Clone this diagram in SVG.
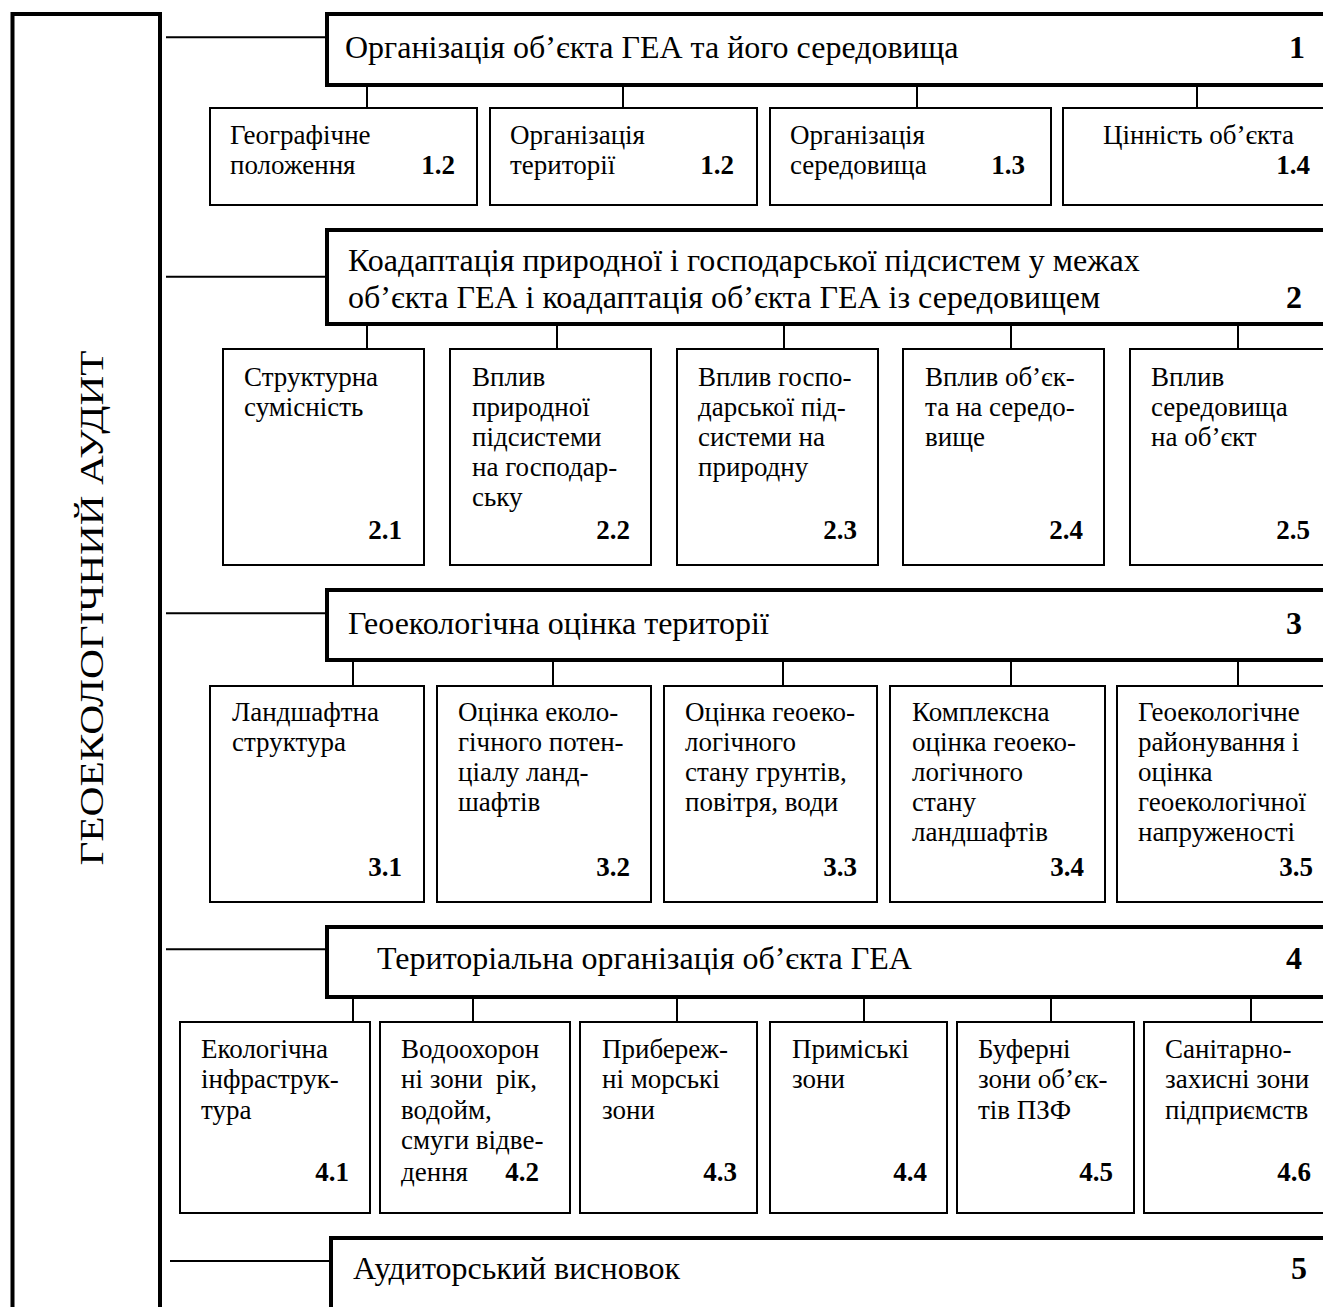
<svg xmlns="http://www.w3.org/2000/svg" width="1323" height="1307" viewBox="0 0 1323 1307">
<style>
text{font-family:"Liberation Serif","Times New Roman",serif;fill:#000}
.h{font-size:32px}
.s{font-size:27px}
.n{font-size:27px;font-weight:bold;text-anchor:end}
.hn{font-size:32px;font-weight:bold;text-anchor:end}
.v{font-size:33px;text-anchor:middle}
.hdr{fill:#fff;stroke:#000;stroke-width:4}
.box{fill:#fff;stroke:#000;stroke-width:2}
.ln{stroke:#000;stroke-width:2;fill:none}
</style>
<rect width="1323" height="1307" fill="#fff"/>
<g id="audit">
<rect x="12.5" y="14" width="147.5" height="1320" fill="#fff" stroke="#000" stroke-width="4"/>
<text class="v" transform="translate(103,608) rotate(-90)" textLength="515" lengthAdjust="spacingAndGlyphs">ГЕОЕКОЛОГІЧНИЙ АУДИТ</text>
</g>
<g id="connectors">
<path class="ln" d="M166 37.3H327M166 276.7H327M166 613.3H327M166 949.3H327M170 1261H331"/>
<path class="ln" d="M367 85V108M623 85V108M917 85V108M1197 85V108"/>
<path class="ln" d="M367 324V349M557 324V349M784 324V349M1011 324V349M1238 324V349"/>
<path class="ln" d="M353 660V686M553 660V686M783 660V686M1011 660V686M1238 660V686"/>
<path class="ln" d="M353 997V1022M473 997V1022M677 997V1022M864 997V1022M1051 997V1022M1251 997V1022"/>
</g>
<g id="h1"><rect class="hdr" x="327" y="14" width="1010" height="71"/>
<text class="h" x="345" y="58">Організація об’єкта ГЕА та його середовища</text><text class="hn" x="1305" y="58">1</text></g>
<g id="n1-1"><rect class="box" x="210" y="108" width="267" height="97"/><text class="s" x="230" y="144">Географічне</text><text class="s" x="230" y="174">положення</text><text class="n" x="455" y="174">1.2</text></g>
<g id="n1-2"><rect class="box" x="490" y="108" width="267" height="97"/><text class="s" x="510" y="144">Організація</text><text class="s" x="510" y="174">території</text><text class="n" x="734" y="174">1.2</text></g>
<g id="n1-3"><rect class="box" x="770" y="108" width="281" height="97"/><text class="s" x="790" y="144">Організація</text><text class="s" x="790" y="174">середовища</text><text class="n" x="1025" y="174">1.3</text></g>
<g id="n1-4"><rect class="box" x="1063" y="108" width="280" height="97"/><text class="s" x="1103" y="144">Цінність об’єкта</text><text class="n" x="1310" y="174">1.4</text></g>

<g id="h2"><rect class="hdr" x="327" y="230" width="1010" height="94"/>
<text class="h" x="348" y="271">Коадаптація природної і господарської підсистем у межах</text>
<text class="h" x="348" y="308">об’єкта ГЕА і коадаптація об’єкта ГЕА із середовищем</text><text class="hn" x="1302" y="308">2</text></g>
<g id="n2-1"><rect class="box" x="223" y="349" width="201" height="216"/><text class="s" x="244" y="386">Структурна</text><text class="s" x="244" y="416">сумісність</text><text class="n" x="402" y="539">2.1</text></g>
<g id="n2-2"><rect class="box" x="450" y="349" width="201" height="216"/><text class="s" x="472" y="386">Вплив</text><text class="s" x="472" y="416">природної</text><text class="s" x="472" y="446">підсистеми</text><text class="s" x="472" y="476">на господар-</text><text class="s" x="472" y="506">ську</text><text class="n" x="630" y="539">2.2</text></g>
<g id="n2-3"><rect class="box" x="677" y="349" width="201" height="216"/><text class="s" x="698" y="386">Вплив госпо-</text><text class="s" x="698" y="416">дарської під-</text><text class="s" x="698" y="446">системи на</text><text class="s" x="698" y="476">природну</text><text class="n" x="857" y="539">2.3</text></g>
<g id="n2-4"><rect class="box" x="903" y="349" width="201" height="216"/><text class="s" x="925" y="386">Вплив об’єк-</text><text class="s" x="925" y="416">та на середо-</text><text class="s" x="925" y="446">вище</text><text class="n" x="1083" y="539">2.4</text></g>
<g id="n2-5"><rect class="box" x="1130" y="349" width="210" height="216"/><text class="s" x="1151" y="386">Вплив</text><text class="s" x="1151" y="416">середовища</text><text class="s" x="1151" y="446">на об’єкт</text><text class="n" x="1310" y="539">2.5</text></g>

<g id="h3"><rect class="hdr" x="327" y="590" width="1010" height="70"/>
<text class="h" x="348" y="634">Геоекологічна оцінка території</text><text class="hn" x="1302" y="634">3</text></g>
<g id="n3-1"><rect class="box" x="210" y="686" width="214" height="216"/><text class="s" x="232" y="721">Ландшафтна</text><text class="s" x="232" y="751">структура</text><text class="n" x="402" y="876">3.1</text></g>
<g id="n3-2"><rect class="box" x="437" y="686" width="214" height="216"/><text class="s" x="458" y="721">Оцінка еколо-</text><text class="s" x="458" y="751">гічного потен-</text><text class="s" x="458" y="781">ціалу ланд-</text><text class="s" x="458" y="811">шафтів</text><text class="n" x="630" y="876">3.2</text></g>
<g id="n3-3"><rect class="box" x="664" y="686" width="213" height="216"/><text class="s" x="685" y="721">Оцінка геоеко-</text><text class="s" x="685" y="751">логічного</text><text class="s" x="685" y="781">стану грунтів,</text><text class="s" x="685" y="811">повітря, води</text><text class="n" x="857" y="876">3.3</text></g>
<g id="n3-4"><rect class="box" x="890" y="686" width="215" height="216"/><text class="s" x="912" y="721">Комплексна</text><text class="s" x="912" y="751">оцінка геоеко-</text><text class="s" x="912" y="781">логічного</text><text class="s" x="912" y="811">стану</text><text class="s" x="912" y="841">ландшафтів</text><text class="n" x="1084" y="876">3.4</text></g>
<g id="n3-5"><rect class="box" x="1117" y="686" width="220" height="216"/><text class="s" x="1138" y="721">Геоекологічне</text><text class="s" x="1138" y="751">районування і</text><text class="s" x="1138" y="781">оцінка</text><text class="s" x="1138" y="811">геоекологічної</text><text class="s" x="1138" y="841">напруженості</text><text class="n" x="1313" y="876">3.5</text></g>

<g id="h4"><rect class="hdr" x="327" y="927" width="1010" height="70"/>
<text class="h" x="377" y="969">Територіальна організація об’єкта ГЕА</text><text class="hn" x="1302" y="969">4</text></g>
<g id="n4-1"><rect class="box" x="180" y="1022" width="190" height="191"/><text class="s" x="201" y="1058">Екологічна</text><text class="s" x="201" y="1088">інфраструк-</text><text class="s" x="201" y="1119">тура</text><text class="n" x="349" y="1181">4.1</text></g>
<g id="n4-2"><rect class="box" x="380" y="1022" width="190" height="191"/><text class="s" x="401" y="1058">Водоохорон</text><text class="s" x="401" y="1088" style="white-space:pre">ні зони  рік,</text><text class="s" x="401" y="1119">водойм,</text><text class="s" x="401" y="1149">смуги відве-</text><text class="s" x="401" y="1181">дення</text><text class="n" x="539" y="1181">4.2</text></g>
<g id="n4-3"><rect class="box" x="580" y="1022" width="177" height="191"/><text class="s" x="602" y="1058">Прибереж-</text><text class="s" x="602" y="1088">ні морські</text><text class="s" x="602" y="1119">зони</text><text class="n" x="737" y="1181">4.3</text></g>
<g id="n4-4"><rect class="box" x="770" y="1022" width="177" height="191"/><text class="s" x="792" y="1058">Приміські</text><text class="s" x="792" y="1088">зони</text><text class="n" x="927" y="1181">4.4</text></g>
<g id="n4-5"><rect class="box" x="957" y="1022" width="177" height="191"/><text class="s" x="978" y="1058">Буферні</text><text class="s" x="978" y="1088">зони об’єк-</text><text class="s" x="978" y="1119">тів ПЗФ</text><text class="n" x="1113" y="1181">4.5</text></g>
<g id="n4-6"><rect class="box" x="1144" y="1022" width="200" height="191"/><text class="s" x="1165" y="1058">Санітарно-</text><text class="s" x="1165" y="1088">захисні зони</text><text class="s" x="1165" y="1119">підприємств</text><text class="n" x="1311" y="1181">4.6</text></g>

<g id="h5"><rect class="hdr" x="331" y="1238" width="1010" height="100"/>
<text class="h" x="353" y="1279">Аудиторський висновок</text><text class="hn" x="1307" y="1279">5</text></g>
</svg>
